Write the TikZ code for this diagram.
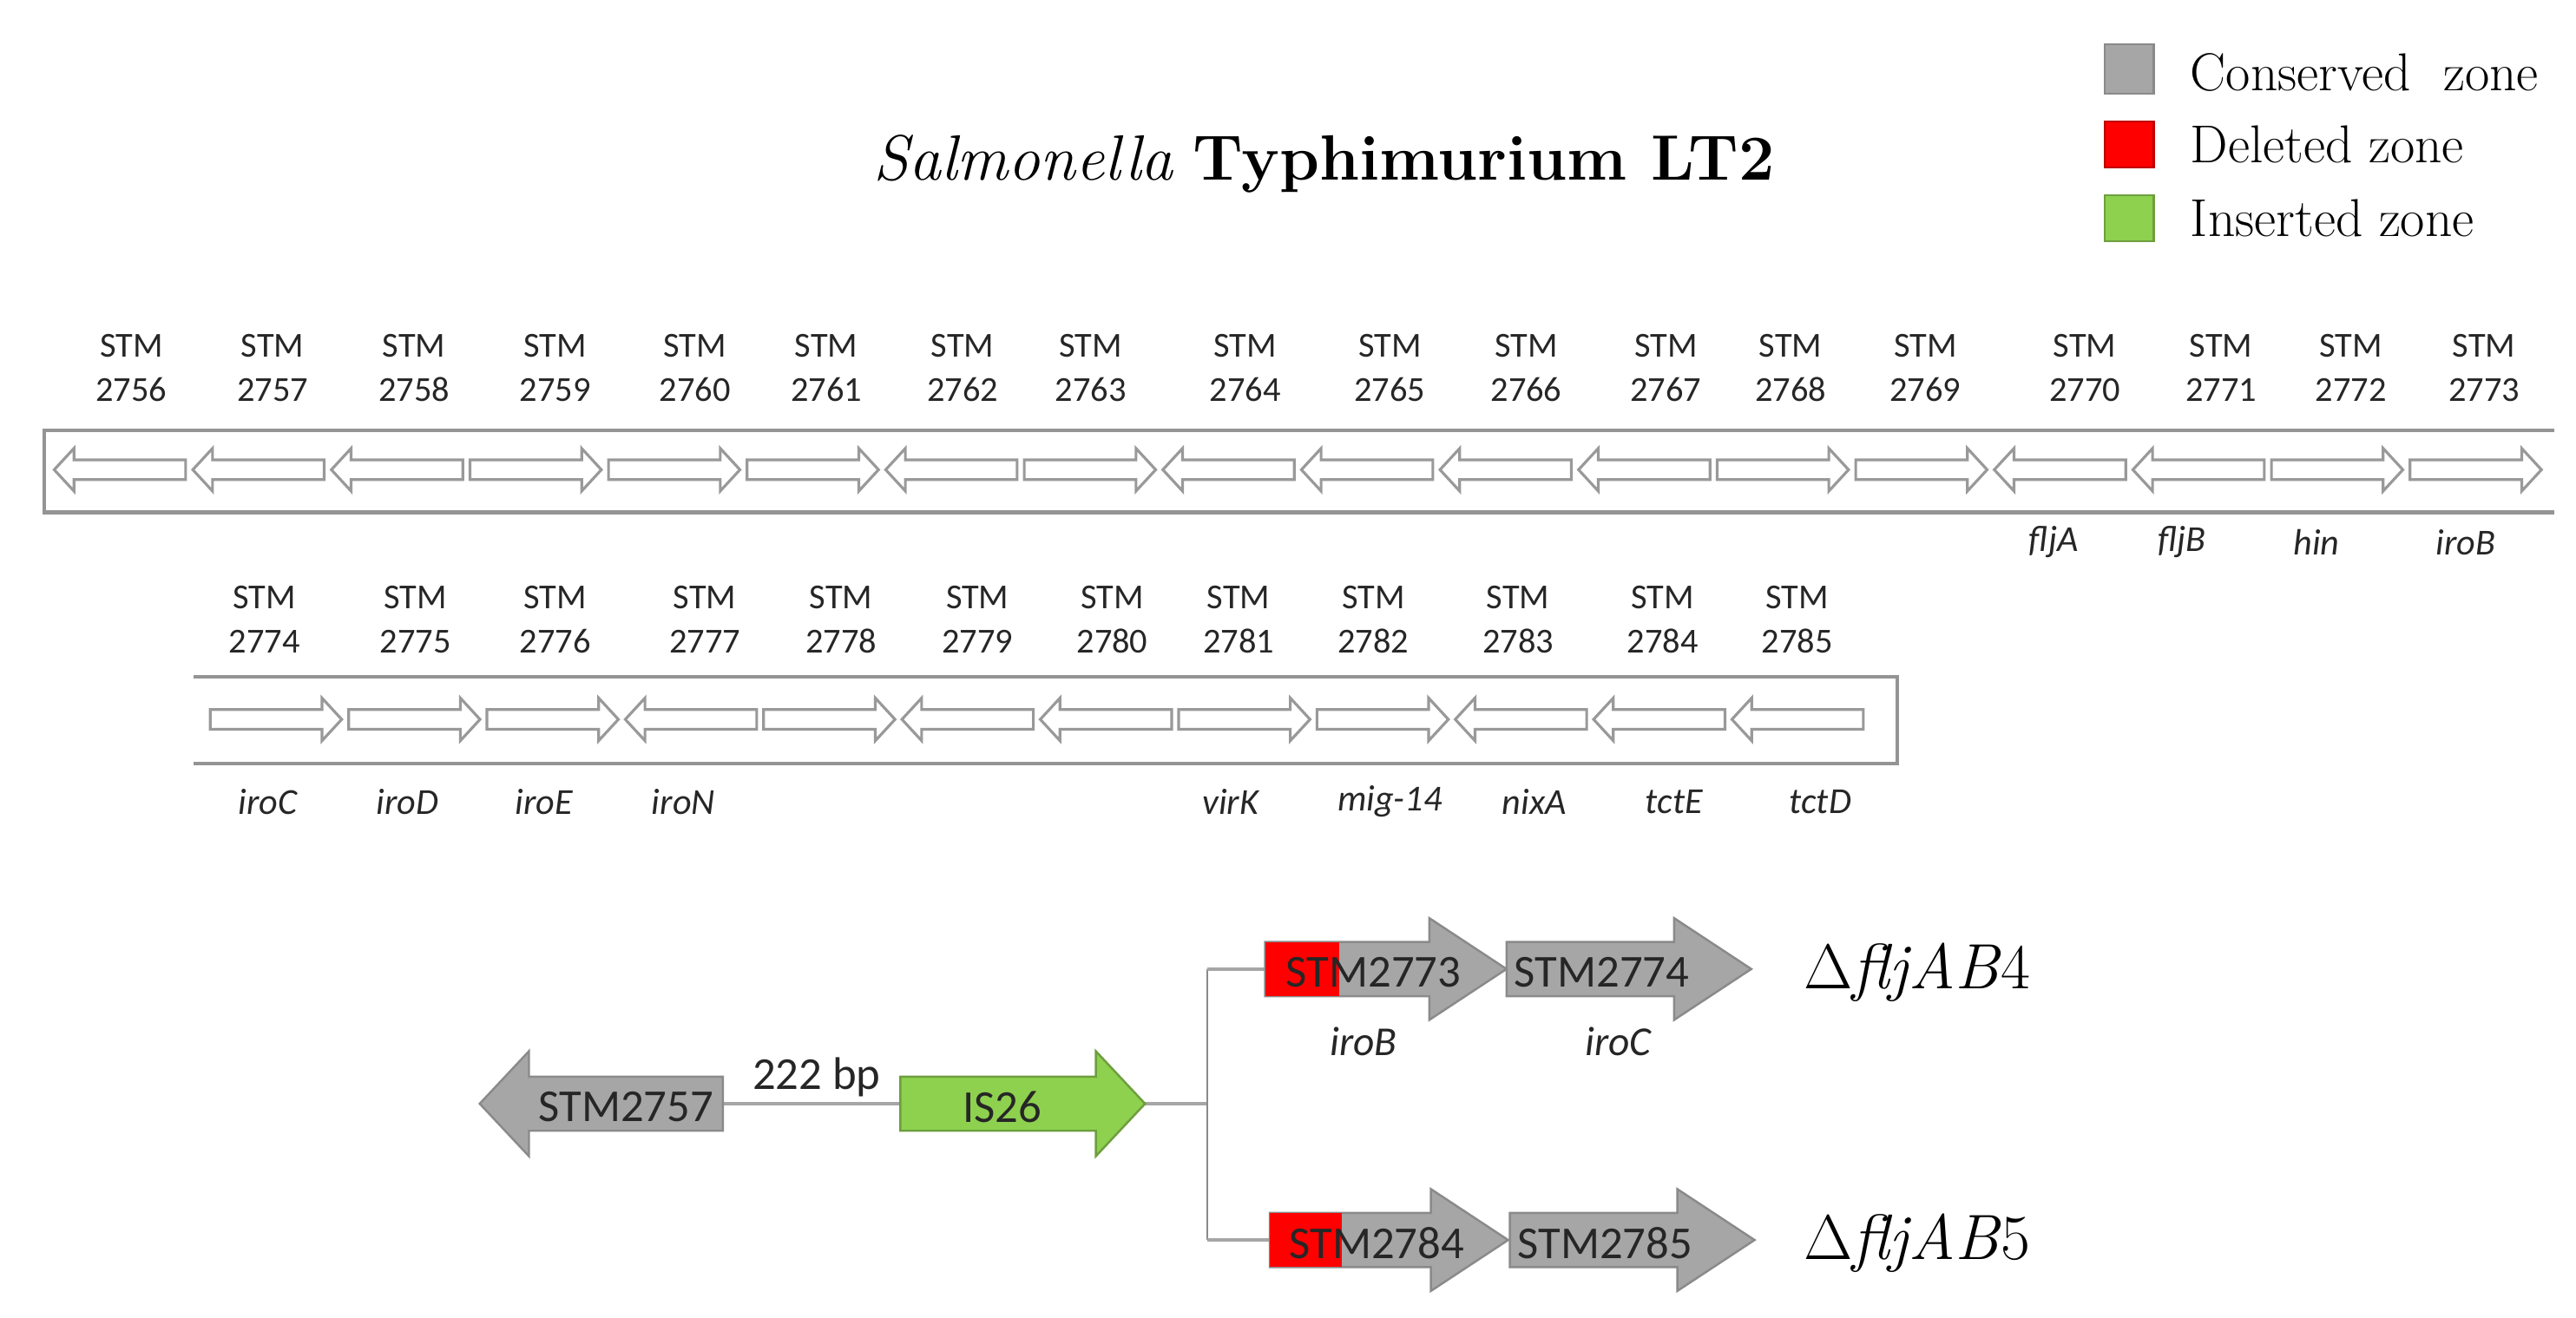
\documentclass[tikz,border=0pt]{standalone}
\usepackage{fontspec}
\newfontfamily\carlito{Carlito}
\definecolor{boxgrey}{HTML}{949494}
\definecolor{orfgrey}{HTML}{999999}
\definecolor{consgrey}{HTML}{A6A6A6}
\definecolor{consedge}{HTML}{8A8A8A}
\definecolor{delred}{HTML}{FF0000}
\definecolor{deledge}{HTML}{C00000}
\definecolor{insgreen}{HTML}{8DD14F}
\definecolor{insedge}{HTML}{6E9E3E}
\definecolor{txtdark}{HTML}{262626}
\newcommand\garR[7]{\draw[#1] (#2,{#4-#5}) -- ({#3-#7},{#4-#5}) -- ({#3-#7},{#4-#6}) -- (#3,#4) -- ({#3-#7},{#4+#6}) -- ({#3-#7},{#4+#5}) -- (#2,{#4+#5}) -- cycle;}
\newcommand\garL[7]{\draw[#1] (#2,{#4-#5}) -- ({#3+#7},{#4-#5}) -- ({#3+#7},{#4-#6}) -- (#3,#4) -- ({#3+#7},{#4+#6}) -- ({#3+#7},{#4+#5}) -- (#2,{#4+#5}) -- cycle;}
\begin{document}
\begin{tikzpicture}[x=0.01893cm,y=-0.01893cm,
  genebox/.style={draw=boxgrey,line width=1.2pt},
  orf/.style={draw=orfgrey,fill=white,line width=0.9pt},
  stm/.style={font=\carlito\fontsize{11.5}{14.5}\selectfont,align=center,text=txtdark,inner sep=0pt},
  gname/.style={font=\carlito\itshape\fontsize{12}{14}\selectfont,text=txtdark,inner sep=0pt},
  cons/.style={fill=consgrey,draw=consedge,line width=0.7pt},
  ins/.style={fill=insgreen,draw=insedge,line width=0.7pt},
  del/.style={fill=delred,draw=none},
  big/.style={font=\carlito\fontsize{15}{17}\selectfont,text=txtdark,inner sep=0pt},
  link/.style={draw=consgrey,line width=1.3pt},
  vlink/.style={draw=consedge,line width=0.7pt},
  legtxt/.style={font=\fontsize{17.5}{20}\selectfont,anchor=west,inner sep=0pt,text=black},
  mutant/.style={font=\fontsize{21}{24}\selectfont,inner sep=0pt,text=black}]
\useasboundingbox (0,0) rectangle (1568,802);

% title
\node[font=\fontsize{21}{24}\selectfont,inner sep=0pt] (title) at (806,100) {\textit{Salmonella} \textbf{Typhimurium LT2}};

% legend
\draw[cons] (1281,27) rectangle (1311,57);
\draw[fill=delred,draw=deledge,line width=0.7pt] (1281,74) rectangle (1311,102);
\draw[ins] (1281,119) rectangle (1311,147);
\node[legtxt] (lc) at (1333,44) {Conserved\ \ zone};
\node[legtxt] (ld) at (1333,88) {Deleted zone};
\node[legtxt] (li) at (1333,133) {Inserted zone};

% top row
\draw[genebox] (1555,262) -- (27,262) -- (27,312) -- (1555,312);
\foreach \n/\d/\lx [count=\i from 0] in {2756/L/80,2757/L/166,2758/L/252,2759/R/338,2760/R/423,2761/R/503,2762/L/586,2763/R/664,2764/L/758,2765/L/846,2766/L/929,2767/L/1014,2768/R/1090,2769/R/1172,2770/L/1269,2771/L/1352,2772/R/1431,2773/R/1512}{
  \pgfmathsetmacro\xa{33+84.35*\i}
  \pgfmathsetmacro\xb{\xa+80}
  \if\d L\garL{orf}{\xb}{\xa}{286}{6}{13}{12}\else\garR{orf}{\xa}{\xb}{286}{6}{13}{12}\fi
  \node[stm] (t\n) at (\lx,224) {STM\\\n};
}
\node[gname] (nfljA) at (1250,330) {fljA};
\node[gname] (nfljB) at (1328,330) {fljB};
\node[gname] (nhin) at (1410,330) {hin};
\node[gname] (niroB) at (1501,330) {iroB};

% second row
\draw[genebox] (118,412) -- (1155,412) -- (1155,465) -- (118,465);
\foreach \n/\d/\lx [count=\i from 0] in {2774/R/161,2775/R/253,2776/R/338,2777/L/429,2778/R/512,2779/L/595,2780/L/677,2781/R/754,2782/R/836,2783/L/924,2784/L/1012,2785/L/1094}{
  \pgfmathsetmacro\xa{128+84.2*\i}
  \pgfmathsetmacro\xb{\xa+80}
  \if\d L\garL{orf}{\xb}{\xa}{438}{6}{13}{12}\else\garR{orf}{\xa}{\xb}{438}{6}{13}{12}\fi
  \node[stm] (b\n) at (\lx,377) {STM\\\n};
}
\node[gname] (niroC) at (163,488) {iroC};
\node[gname] (niroD) at (248,488) {iroD};
\node[gname] (niroE) at (331,488) {iroE};
\node[gname] (niroN) at (416,488) {iroN};
\node[gname] (nvirK) at (749,488) {virK};
\node[gname] (nmig) at (846,488) {mig-14};
\node[gname] (nnixA) at (934,488) {nixA};
\node[gname] (ntctE) at (1019,488) {tctE};
\node[gname] (ntctD) at (1108,488) {tctD};

% bottom construct
\coordinate (a57tail) at (440,672);
\coordinate (is26tail) at (548,672);
\coordinate (is26tip) at (697,672);
\coordinate (split) at (735,672);
\coordinate (upj) at (735,590);
\coordinate (loj) at (735,755);
\coordinate (a73tail) at (770,590);
\coordinate (a84tail) at (773,755);

\draw[link] (a57tail) -- (is26tail);
\draw[link] (is26tip) -- (split);
\draw[vlink] (upj) -- (loj);
\draw[link] (upj) -- (a73tail);
\draw[link] (loj) -- (a84tail);

\garL{cons}{440}{292}{672}{16.5}{32}{30}
\garR{ins}{548}{697}{672}{16.5}{32}{30}
\node[big] (g2757) at (381,674) {STM2757};
\node[big] (bp) at (497,656) {222 bp};
\node[big] (is26) at (610,674) {IS26};

\garR{cons}{770}{917}{590}{16.5}{31}{47}
\fill[del] (770,573.5) rectangle (815,606.5);
\garR{cons}{917}{1066}{590}{16.5}{31}{47}
\node[big] (g2773) at (836,592) {STM2773};
\node[big] (g2774) at (975,592) {STM2774};
\node[font=\carlito\itshape\fontsize{13.5}{16}\selectfont,text=txtdark,inner sep=0pt] (iB) at (830,634) {iroB};
\node[font=\carlito\itshape\fontsize{13.5}{16}\selectfont,text=txtdark,inner sep=0pt] (iC) at (985,634) {iroC};
\node[mutant] (m4) at (1167,592) {$\Delta$\textit{fljAB}4};

\garR{cons}{773}{918}{755}{16.5}{31}{47}
\fill[del] (773,738.5) rectangle (817,771.5);
\garR{cons}{919}{1068}{755}{16.5}{31}{47}
\node[big] (g2784) at (838,757) {STM2784};
\node[big] (g2785) at (977,757) {STM2785};
\node[mutant] (m5) at (1167,757) {$\Delta$\textit{fljAB}5};
\end{tikzpicture}
\end{document}
